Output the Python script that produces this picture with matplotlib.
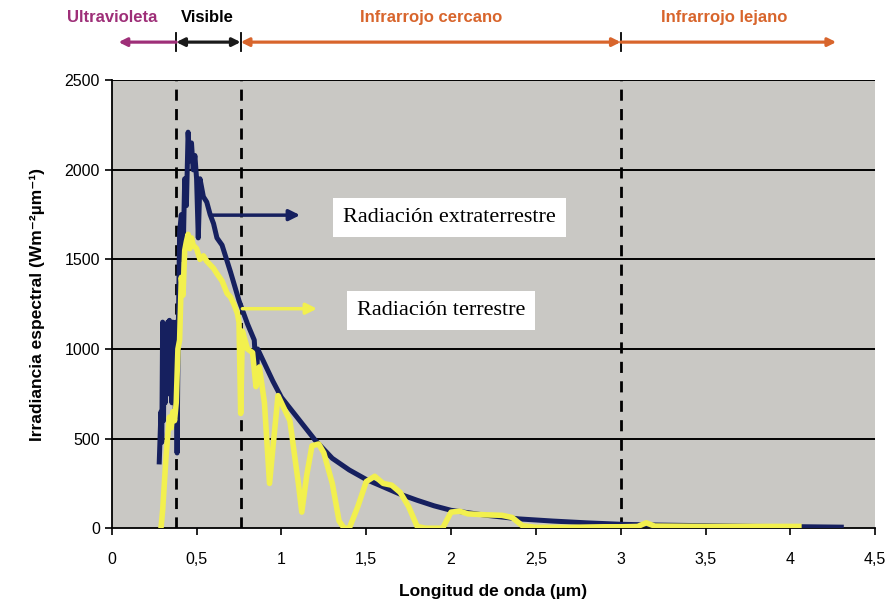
import numpy as np
import matplotlib
matplotlib.use("Agg")
from matplotlib import pyplot as plt

# extraterrestrial spectrum (µm, W m-2 µm-1)
wl_ext = [0.28, 0.29, 0.295, 0.30, 0.305, 0.31, 0.315, 0.32, 0.325, 0.33, 0.335, 0.34,
          0.345, 0.35, 0.355, 0.36, 0.365, 0.37, 0.375, 0.38, 0.385, 0.39, 0.395,
          0.40, 0.41, 0.42, 0.43, 0.44, 0.45, 0.46, 0.47, 0.48, 0.49, 0.50, 0.51,
          0.52, 0.54, 0.56, 0.58, 0.60, 0.62, 0.65, 0.70, 0.75, 0.80, 0.84, 0.853, 0.86,
          0.90, 0.95, 1.00, 1.10, 1.20, 1.30, 1.40, 1.50, 1.60, 1.70, 1.80, 1.90, 2.00,
          2.20, 2.40, 2.60, 2.80, 3.00, 3.20, 3.50, 3.80, 4.00, 4.30]
irr_ext = [370, 650, 480, 1150, 600, 1120, 700, 1100, 800, 1150, 750, 1160,
           850, 1100, 700, 1150, 800, 1120, 650, 1150, 420, 950, 1300,
           1650, 1750, 1500, 1950, 1800, 2210, 2050, 2150, 2000, 2080, 1950, 1620,
           1950, 1850, 1820, 1750, 1700, 1620, 1580, 1430, 1270, 1140, 1050, 830, 1000,
           920, 820, 730, 610, 490, 390, 325, 272, 231, 190, 156, 125, 100,
           73, 52, 40, 30, 22, 18, 14, 10, 9, 6]

# surface (terrestrial) spectrum
wl_ter = [0.29, 0.30, 0.31, 0.32, 0.33, 0.34, 0.35, 0.36, 0.37, 0.38, 0.39, 0.40, 0.41,
          0.42, 0.43, 0.44, 0.45, 0.46, 0.47, 0.48, 0.50, 0.52, 0.54, 0.56, 0.58, 0.60,
          0.62, 0.65, 0.68, 0.70, 0.72, 0.74, 0.75, 0.76, 0.77, 0.80, 0.83, 0.85, 0.87,
          0.90, 0.93, 0.95, 0.98, 1.00, 1.05, 1.10, 1.12, 1.15, 1.18, 1.22, 1.25, 1.30,
          1.34, 1.37, 1.40, 1.45, 1.50, 1.55, 1.60, 1.65, 1.70, 1.75, 1.80, 1.85, 1.95,
          2.00, 2.05, 2.10, 2.20, 2.30, 2.36, 2.42, 2.50, 2.70, 2.90, 3.00, 3.10, 3.15,
          3.20, 3.50, 3.80, 4.05]
irr_ter = [0, 100, 250, 400, 520, 620, 560, 650, 600, 700, 1000, 1050, 1400,
           1300, 1550, 1600, 1640, 1560, 1620, 1580, 1560, 1500, 1520, 1490, 1470, 1450,
           1420, 1380, 1310, 1290, 1250, 1200, 1150, 640, 1100, 1000, 980, 790, 900,
           700, 250, 450, 740, 700, 600, 250, 90, 300, 460, 470, 420, 250,
           40, 0, 0, 120, 260, 290, 250, 240, 200, 120, 10, 0, 0,
           90, 95, 80, 75, 72, 60, 14, 5, 5, 8, 8, 10, 30,
           12, 10, 10, 10]

band_edges = [0.38, 0.76, 3.0]
x_ticks = [0, 0.5, 1, 1.5, 2, 2.5, 3, 3.5, 4, 4.5]
x_labels = ["0", "0,5", "1", "1,5", "2", "2,5", "3", "3,5", "4", "4,5"]
y_ticks = [0, 500, 1000, 1500, 2000, 2500]

band_names = ["Ultravioleta", "Visible", "Infrarrojo cercano", "Infrarrojo lejano"]
band_centers = [0.005, 0.566, 1.885, 3.61]

purple = "#9e2f78"
orange = "#d8652c"
navy = "#16205f"
yellow = "#f2f04e"

plt.rcParams["font.family"] = ["Liberation Sans", "DejaVu Sans"]

fig = plt.figure(figsize=(8.94, 6.03), dpi=100)
ax = fig.add_axes([0.125, 0.124, 0.854, 0.743])
ax.set_facecolor("#c9c8c4")

for y in y_ticks[1:]:
    ax.axhline(y, color="black", lw=1.4, zorder=1)

for e in band_edges:
    ax.axvline(e, color="black", lw=2, linestyle=(0, (4, 3)), zorder=2)

ax.plot(wl_ext, irr_ext, color=navy, lw=3.6, zorder=3, solid_joinstyle="round")
ax.plot(wl_ter, irr_ter, color=yellow, lw=4, zorder=4, solid_joinstyle="round")

ax.set_xlim(0, 4.5)
ax.set_ylim(0, 2500)
ax.set_xticks(x_ticks)
ax.set_xticklabels(x_labels)
ax.set_yticks(y_ticks)
ax.tick_params(axis="both", direction="out", length=5, width=1.2, labelsize=11.5, color="black")
ax.tick_params(axis="x", pad=12)

for s in ["top", "right"]:
    ax.spines[s].set_visible(False)
ax.spines["left"].set_linewidth(1.3)
ax.spines["bottom"].set_linewidth(1.3)

ax.set_xlabel("Longitud de onda (µm)", fontsize=12.5, fontweight="bold", labelpad=12)
ax.set_ylabel("Irradiancia espectral (Wm⁻²µm⁻¹)", fontsize=12.5, fontweight="bold", labelpad=14)

# spectral band arrows above the plot
tr = ax.get_xaxis_transform()
y_arr = 1.085
arrow_kw = dict(lw=2.3, shrinkA=0, shrinkB=0, mutation_scale=12)
ax.annotate("", xy=(0.04, y_arr), xytext=(band_edges[0], y_arr), xycoords=tr,
            arrowprops=dict(arrowstyle="-|>", color=purple, **arrow_kw), annotation_clip=False)
ax.annotate("", xy=(band_edges[0], y_arr), xytext=(band_edges[1], y_arr), xycoords=tr,
            arrowprops=dict(arrowstyle="<|-|>", color="#1a1a1a", **arrow_kw), annotation_clip=False)
ax.annotate("", xy=(band_edges[1], y_arr), xytext=(band_edges[2], y_arr), xycoords=tr,
            arrowprops=dict(arrowstyle="<|-|>", color=orange, **arrow_kw), annotation_clip=False)
ax.annotate("", xy=(4.27, y_arr), xytext=(band_edges[2], y_arr), xycoords=tr,
            arrowprops=dict(arrowstyle="-|>", color=orange, **arrow_kw), annotation_clip=False)
for e in band_edges:
    ax.plot([e, e], [1.065, 1.105], transform=tr, color="black", lw=1.3, clip_on=False)

band_colors = [purple, "black", orange, orange]
for name, cx, c in zip(band_names, band_centers, band_colors):
    ax.text(cx, 1.14, name, transform=tr, ha="center", va="center", color=c,
            fontsize=12, fontweight="bold")

# curve labels
ax.annotate("", xy=(1.11, 1747), xytext=(0.59, 1747),
            arrowprops=dict(arrowstyle="-|>", color=navy, lw=2.5, mutation_scale=16,
                            shrinkA=0, shrinkB=0), zorder=5)
ax.annotate("", xy=(1.21, 1225), xytext=(0.77, 1225),
            arrowprops=dict(arrowstyle="-|>", color=yellow, lw=2.5, mutation_scale=16,
                            shrinkA=0, shrinkB=0), zorder=5)
ax.text(1.99, 1735, "Radiación extraterrestre", family="Liberation Serif", fontsize=16,
        ha="center", va="center", zorder=6,
        bbox=dict(boxstyle="square,pad=0.45", fc="white", ec="none"))
ax.text(1.94, 1216, "Radiación terrestre", family="Liberation Serif", fontsize=16,
        ha="center", va="center", zorder=6,
        bbox=dict(boxstyle="square,pad=0.45", fc="white", ec="none"))

fig.savefig("out.png", dpi=100)
